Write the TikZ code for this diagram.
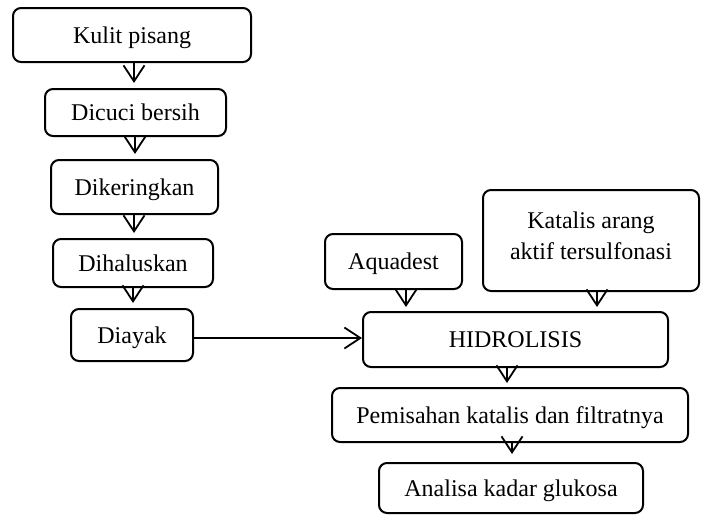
\documentclass[tikz,border=0pt]{standalone}
\usepackage{fontspec}
\setmainfont{Liberation Serif}
\usetikzlibrary{arrows.meta}
\begin{document}
\begin{tikzpicture}[x=1pt,y=-1pt,
  box/.style={draw,line width=2pt,rounded corners=8pt,align=center,inner sep=0pt,
    font=\fontsize{24}{31}\selectfont,text height=16pt,text depth=0pt},
  arr/.style={line width=1.8pt,-{Straight Barb[length=16pt,width=21pt,line width=1.8pt]},shorten >=5pt}]
\useasboundingbox (0,0) rectangle (703,514);
\node[box,minimum width=238pt,minimum height=54pt] (a) at (132,35) {Kulit pisang};
\node[box,minimum width=181pt,minimum height=47pt] (b) at (135.5,112.5) {Dicuci bersih};
\node[box,minimum width=167pt,minimum height=54pt] (c) at (134.5,187) {Dikeringkan};
\node[box,minimum width=160pt,minimum height=48pt] (d) at (133,263) {Dihaluskan};
\node[box,minimum width=122pt,minimum height=52pt] (e) at (132,335) {Diayak};
\node[box,minimum width=137pt,minimum height=55pt] (aq) at (393.5,261.5) {Aquadest};
\node[box,minimum width=216pt,minimum height=101pt] (kat) at (591,240.5) {};
\node[align=center,inner sep=0pt,font=\fontsize{24}{31}\selectfont] (kattext) at (591,236) {Katalis arang\\aktif tersulfonasi};
\node[box,minimum width=305pt,minimum height=55pt] (h) at (515.5,339.5) {HIDROLISIS};
\node[box,minimum width=356pt,minimum height=54pt] (p) at (510,415) {Pemisahan katalis dan filtratnya};
\node[box,minimum width=264pt,minimum height=50pt] (an) at (511,488) {Analisa kadar glukosa};
\draw[arr] (a.south -| 134,0) -- (b.north -| 134,0);
\draw[arr] (b.south -| 135,0) -- (c.north -| 135,0);
\draw[arr] (c.south -| 134,0) -- (d.north -| 134,0);
\draw[arr] (d.south -| 133,0) -- (e.north -| 133,0);
\draw[arr,shorten >=0pt] (e.east |- 0,338) -- (h.west |- 0,338);
\draw[arr,shorten >=4pt] (aq.south -| 406,0) -- (h.north -| 406,0);
\draw[arr,shorten >=4pt] (kat.south -| 597,0) -- (h.north -| 597,0);
\draw[arr,shorten >=4pt] (h.south -| 507,0) -- (p.north -| 507,0);
\draw[arr,shorten >=8pt] (p.south -| 512,0) -- (an.north -| 512,0);
\end{tikzpicture}
\end{document}
